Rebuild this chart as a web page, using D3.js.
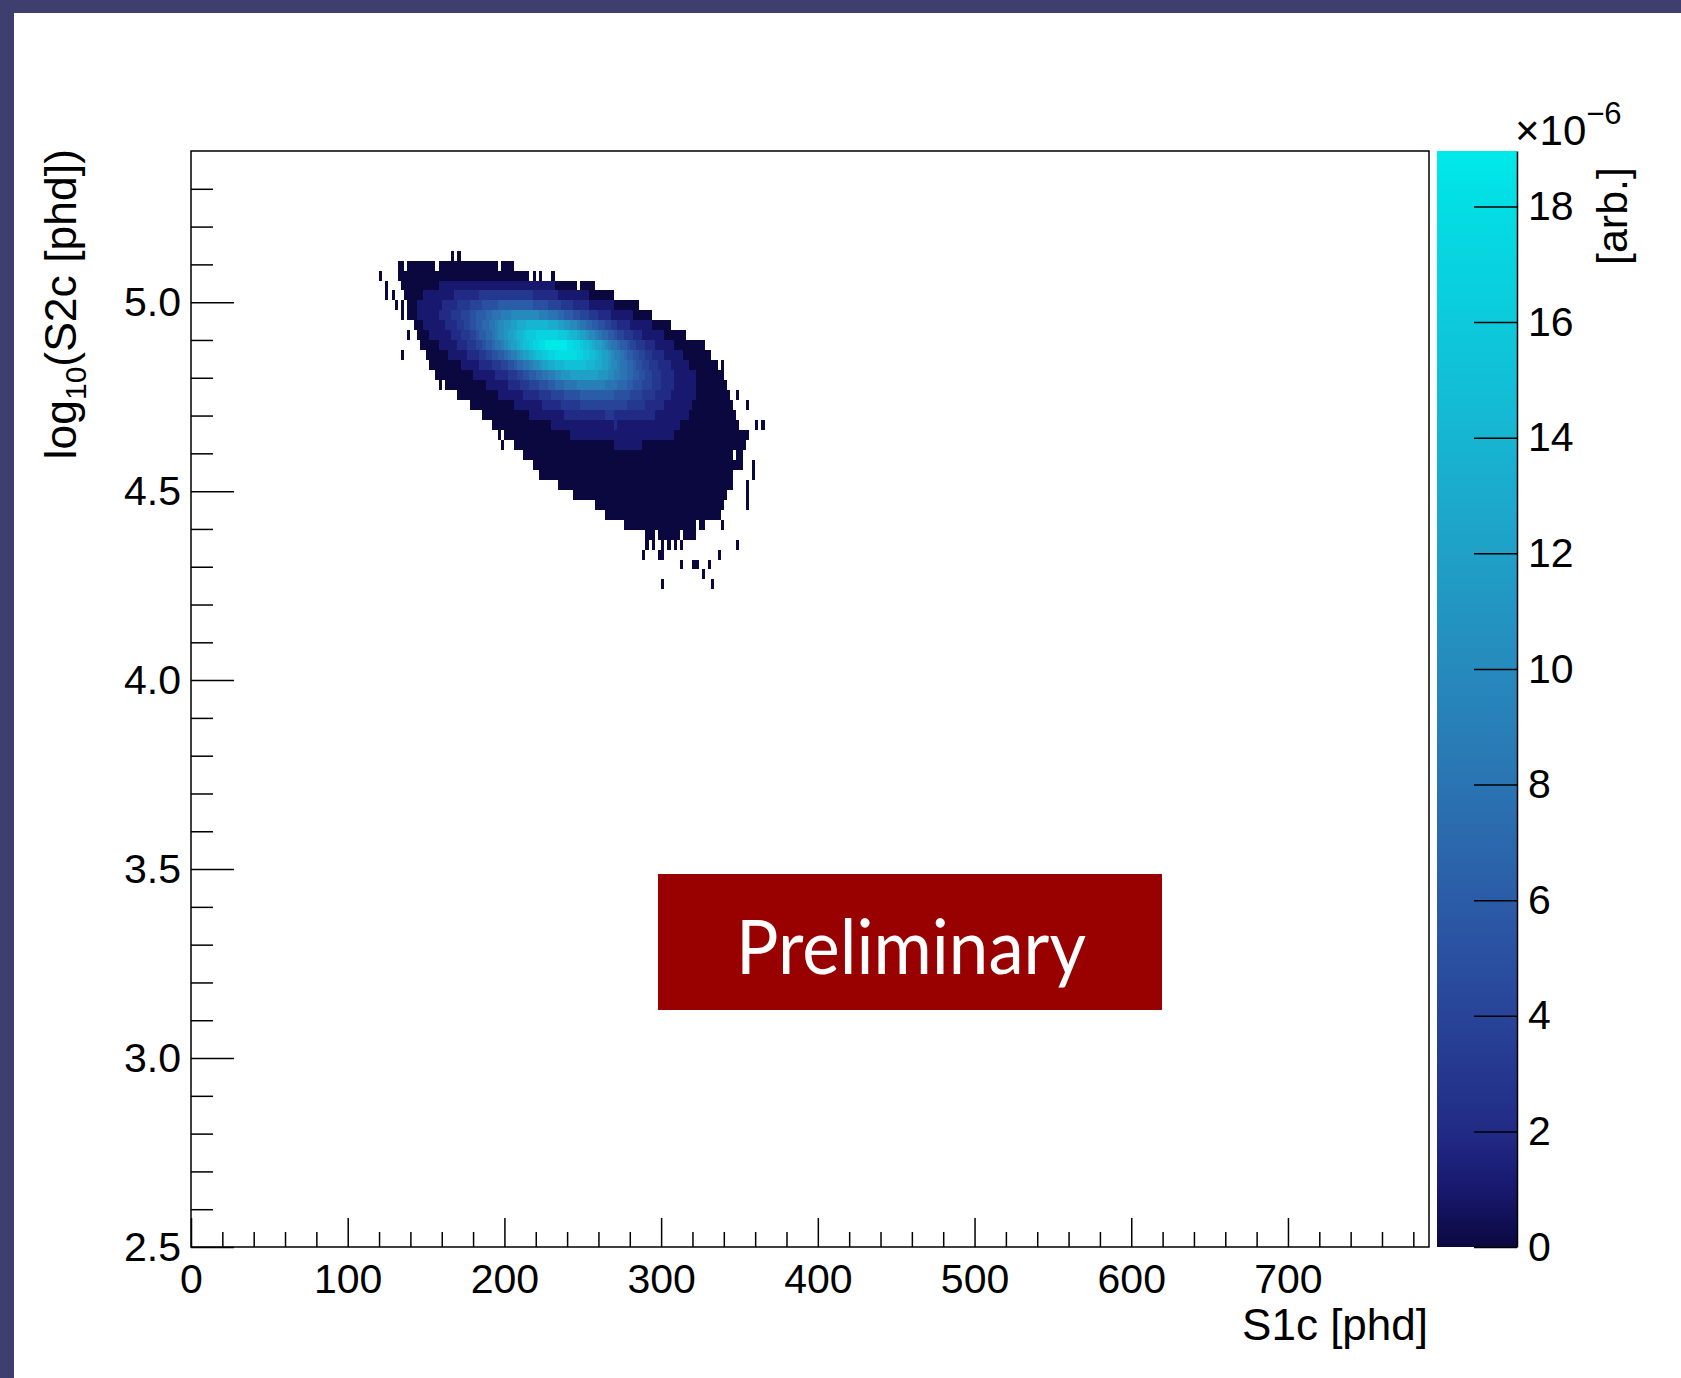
<!DOCTYPE html>
<html>
<head>
<meta charset="utf-8">
<script src="https://cdn.jsdelivr.net/npm/d3@7"></script>
<style>
    html, body { margin: 0; padding: 0; background: #fff; overflow: hidden; }
    svg { display: block; }
</style>
</head>
<body>
<svg id="chart"></svg>
<script>
// log10(S2c) binning of the histogram: 110 bins over 2.5 .. 5.4
const s2Range = [2.5, 5.4];
const s2BinCount = 110;
// S1c bins are 2 phd wide
const s1BinWidth = 2;

// one entry per filled row: row index (from 2.5 up), S1c of first char, cell contents
// cell chars: '.' empty, otherwise value in units of 1e-6 (base 36: 0-9, a=10 ... j=19)
const rowBins = [99, 98, 97, 96, 95, 94, 93, 92, 91, 90, 89, 88, 87, 86, 85, 84, 83,
                 82, 81, 80, 79, 78, 77, 76, 75, 74, 73, 72, 71, 70, 69, 68, 67, 66];
const rowFirstS1c = [166, 132, 120, 124, 124, 130, 134, 142, 138, 146, 134, 152, 156, 158, 170, 178, 186,
                     192, 196, 198, 212, 218, 222, 234, 244, 258, 264, 276, 290, 290, 288, 312, 326, 300];
const rowCells = [
    "0.0",
    "00.000000000.0000000000000000000.0000",
    "0....." + "0000000000" + "0000000000" + "0000000000" + "0000000000" + "00" + ".0.0...0",
    "0...." + "000000000000" + "1111111111" + "1111111111" + "1111111111" + "1111111" + "0000000.00000",
    "0.0..." + "000000" + "1111111111" + "22222222" + "3333333333" + "3333333" + "22222222" + "1111111111" + "00000000",
    "0.0." + "000" + "11111111" + "22222" + "3333" + "4444" + "55555" + "6666666666" + "6" + "55555" + "4444" + "3333" + "22222" + "11111111" + "00000000",
    "0." + "000" + "1111111" + "2222" + "333" + "444" + "55" + "666" + "77" + "888" + "999" + "aaaaaaaaa" + "999" + "888" + "77" + "666" + "55" + "444" + "333" + "2222" + "1111111" + "000000",
    "000" + "1111111" + "2222" + "33" + "44" + "55" + "66" + "77" + "88" + "9" + "aa" + "bb" + "cc" + "ddd" + "eeeeeee" + "ddd" + "cc" + "bb" + "aa" + "9" + "88" + "77" + "66" + "55" + "44" + "33" + "2222" + "1111111" + "000000",
    "0.." + "0000" + "1111111" + "222" + "333" + "44" + "5" + "66" + "77" + "8" + "9" + "aa" + "b" + "cc" + "d" + "ee" + "f" + "ggg" + "hhhhhhh" + "ggg" + "f" + "ee" + "d" + "cc" + "b" + "aa" + "9" + "8" + "77" + "66" + "5" + "44" + "333" + "222" + "1111111" + "0000000",
    "000000" + "111111" + "222" + "333" + "44" + "5" + "66" + "7" + "88" + "9" + "a" + "b" + "cc" + "d" + "e" + "ff" + "g" + "hh" + "ii" + "jjjjjjj" + "ii" + "hh" + "g" + "ff" + "e" + "d" + "cc" + "b" + "a" + "9" + "88" + "7" + "66" + "5" + "44" + "333" + "222" + "111111" + "0000000000",
    "0......." + "0000000" + "111111" + "2222" + "33" + "44" + "55" + "66" + "7" + "8" + "99" + "a" + "b" + "cc" + "d" + "e" + "ff" + "gg" + "hh" + "iiiiiii" + "hh" + "gg" + "ff" + "e" + "d" + "cc" + "b" + "a" + "99" + "8" + "7" + "66" + "55" + "44" + "33" + "2222" + "111111" + "000000000",
    "0000000000" + "111111" + "2222" + "333" + "44" + "55" + "6" + "77" + "88" + "9" + "aa" + "b" + "cc" + "dd" + "eee" + "fffffff" + "eee" + "dd" + "cc" + "b" + "aa" + "9" + "88" + "77" + "6" + "55" + "44" + "333" + "2222" + "111111" + "000000000" + ".0",
    "000000000000" + "1111111" + "2222" + "333" + "44" + "55" + "66" + "77" + "88" + "99" + "aa" + "bbb" + "ccccccccc" + "bbb" + "aa" + "99" + "88" + "77" + "66" + "55" + "44" + "333" + "2222" + "1111111" + "000000000",
    "0." + "0000000000000" + "1111111" + "2222" + "333" + "444" + "555" + "66" + "777" + "8888" + "999999999" + "8888" + "777" + "66" + "555" + "444" + "333" + "2222" + "1111111" + "0000000000",
    "0000000000" + "000" + "11111111" + "22222" + "3333" + "4444" + "55555" + "6666666666" + "6" + "55555" + "4444" + "3333" + "22222" + "11111111" + "0000000000" + "0" + "..0",
    "0000000000" + "0000" + "111111111" + "222222" + "333333" + "4444444444" + "44444" + "333333" + "222222" + "111111111" + "0000000000" + "000" + "....0",
    "0000000000" + "00000" + "1111111111" + "1" + "2222222222" + "222" + "333" + "2222222222" + "222" + "1111111111" + "1" + "0000000000" + "00000",
    "0000000000" + "000000000" + "1111111111" + "1111111111" + "2" + "1111111111" + "1111111111" + "0000000000" + "000000000" + ".....0.0",
    "0." + "0000000000" + "0000000000" + "0" + "1111111111" + "1111111111" + "1111111111" + "111" + "0000000000" + "0000000000" + "0000",
    "0..." + "0000000000" + "0000000000" + "0000000000" + "00" + "111111111" + "0000000000" + "0000000000" + "0000000000" + "000",
    "0000000000" + "0000000000" + "0000000000" + "0000000000" + "0000000000" + "0000000000" + "0000000" + ".00",
    "0000000000" + "0000000000" + "0000000000" + "0000000000" + "0000000000" + "0000000000" + "0000000" + "...0",
    "0000000000" + "0000000000" + "0000000000" + "0000000000" + "0000000000" + "0000000000" + "00" + "......0",
    "0000000000" + "0000000000" + "0000000000" + "0000000000" + "0000000000" + "000000" + "....0",
    "0000000000" + "0000000000" + "0000000000" + "0000000000" + "000000000" + "......0",
    "0000000000" + "0000000000" + "0000000000" + "0000000000" + "0" + ".......0",
    "0000000000" + "0000000000" + "0000000000" + "0000000",
    "0000000000" + "0000000000" + "000" + ".00.....0",
    "000.0000000.0000",
    "0.0..0.0.0.0.................0",
    "0....00.................0",
    "0...00...0",
    "0",
    "0...............0"
];

const xTicks = [0, 100, 200, 300, 400, 500, 600, 700];
const yTicks = [2.5, 3.0, 3.5, 4.0, 4.5, 5.0];
const zTicks = [0, 2, 4, 6, 8, 10, 12, 14, 16, 18];
const xMax = 790;
const zMax = 18.96;

const font = "'Liberation Sans', Arial, Helvetica, sans-serif";

const svg = d3.select("#chart").attr("width", 1681).attr("height", 1378);

// slide border strips
svg.append("rect").attr("x", 0).attr("y", 0).attr("width", 1681).attr("height", 13).attr("fill", "#3e3f6e");
svg.append("rect").attr("x", 0).attr("y", 0).attr("width", 14).attr("height", 1378).attr("fill", "#3e3f6e");

const plot = {left: 191, right: 1429, top: 151, bottom: 1247};

const x = d3.scaleLinear().domain([0, xMax]).range([plot.left, plot.right]);
const y = d3.scaleLinear().domain(s2Range).range([plot.bottom, plot.top]);
const z = d3.scaleLinear().domain([0, zMax]).range([plot.bottom, plot.top]);
const s2Bin = (s2Range[1] - s2Range[0]) / s2BinCount;

// deep sea like palette
const paletteStops = [0, 1, 2, 4, 6, 8, 10, 12, 14, 16, 18, 19];
const paletteColors = ["#0b0840", "#18186e", "#212b86", "#284499", "#2b5ca7", "#2a74b2",
                       "#268abd", "#1fa0c7", "#16b5d1", "#0ccadb", "#03dde4", "#00eaea"];
const color = d3.scaleLinear().domain(paletteStops).range(paletteColors).clamp(true);

// unpack the rows into cells
let cells = [];
rowCells.forEach((row, r) => {
    for (let i = 0; i < row.length; i++) {
        if (row[i] === ".") continue;
        cells.push({
            s1: rowFirstS1c[r] + i * s1BinWidth,
            s2: s2Range[0] + rowBins[r] * s2Bin,
            v: parseInt(row[i], 36)
        });
    }
});

svg.append("g")
    .attr("shape-rendering", "crispEdges")
    .selectAll("rect")
    .data(cells)
    .join("rect")
    .attr("x", d => x(d.s1))
    .attr("width", d => x(d.s1 + s1BinWidth) - x(d.s1))
    .attr("y", d => y(d.s2 + s2Bin))
    .attr("height", d => y(d.s2) - y(d.s2 + s2Bin))
    .attr("fill", d => color(d.v));

// frame
svg.append("rect")
    .attr("x", plot.left).attr("y", plot.top)
    .attr("width", plot.right - plot.left).attr("height", plot.bottom - plot.top)
    .attr("fill", "none").attr("stroke", "#000").attr("stroke-width", 1.5);

function styleAxis(g, size) {
    g.attr("font-family", font).attr("font-size", size);
    g.selectAll("line").attr("stroke", "#000").attr("stroke-width", 1.5);
    g.selectAll("text").attr("fill", "#000");
}

// x axis, ticks point inwards
svg.append("g")
    .attr("transform", `translate(0,${plot.bottom})`)
    .call(d3.axisBottom(x).tickValues(d3.range(0, xMax, 20).filter(v => v % 100 !== 0))
        .tickSize(-15).tickFormat(""))
    .call(g => g.select(".domain").remove())
    .call(g => styleAxis(g, 41));
svg.append("g")
    .attr("transform", `translate(0,${plot.bottom})`)
    .call(d3.axisBottom(x).tickValues(xTicks).tickSize(-29).tickPadding(17).tickFormat(d3.format("d")))
    .call(g => g.select(".domain").remove())
    .call(g => styleAxis(g, 41));

// y axis
svg.append("g")
    .attr("transform", `translate(${plot.left},0)`)
    .call(d3.axisLeft(y).tickValues(d3.range(26, 54).map(v => v / 10).filter(v => Math.round(v * 10) % 5 !== 0))
        .tickSize(-22).tickFormat(""))
    .call(g => g.select(".domain").remove())
    .call(g => styleAxis(g, 41));
svg.append("g")
    .attr("transform", `translate(${plot.left},0)`)
    .call(d3.axisLeft(y).tickValues(yTicks).tickSize(-43).tickPadding(10).tickFormat(d3.format(".1f")))
    .call(g => g.select(".domain").remove())
    .call(g => styleAxis(g, 41));

// colour bar
const grad = svg.append("defs").append("linearGradient")
    .attr("id", "zgrad").attr("x1", 0).attr("y1", 1).attr("x2", 0).attr("y2", 0);
paletteStops.forEach(v => {
    grad.append("stop").attr("offset", Math.min(v / zMax, 1)).attr("stop-color", color(v));
});
const bar = {left: 1437, right: 1517};
svg.append("rect")
    .attr("x", bar.left).attr("y", z(zMax))
    .attr("width", bar.right - bar.left).attr("height", z(0) - z(zMax))
    .attr("fill", "url(#zgrad)");
svg.append("g")
    .attr("transform", `translate(${bar.right},0)`)
    .call(d3.axisRight(z).tickValues(zTicks).tickSize(-43).tickSizeOuter(0).tickPadding(11))
    .call(g => g.select(".domain").attr("stroke", "#000").attr("stroke-width", 1.5))
    .call(g => styleAxis(g, 41));

// exponent and z title
const expo = svg.append("text")
    .attr("x", 1515).attr("y", 145)
    .attr("font-family", font).attr("font-size", 42);
expo.append("tspan").text("\u00d710");
expo.append("tspan").attr("font-size", 31).attr("dy", -21).text("\u22126");

svg.append("text")
    .attr("transform", "translate(1627,167) rotate(-90)")
    .attr("text-anchor", "end")
    .attr("font-family", font).attr("font-size", 43)
    .text("[arb.]");

// axis titles
svg.append("text")
    .attr("x", 1428).attr("y", 1340)
    .attr("text-anchor", "end")
    .attr("font-family", font).attr("font-size", 44)
    .text("S1c [phd]");

const ytitle = svg.append("text")
    .attr("transform", "translate(76,149) rotate(-90)")
    .attr("text-anchor", "end")
    .attr("font-family", font).attr("font-size", 44.5);
ytitle.append("tspan").text("log");
ytitle.append("tspan").attr("font-size", 30).attr("dy", 10).text("10");
ytitle.append("tspan").attr("dy", -10).text("(S2c [phd])");

// preliminary stamp
svg.append("rect")
    .attr("x", 658).attr("y", 874).attr("width", 504).attr("height", 136)
    .attr("fill", "#990000");
svg.append("text")
    .attr("x", 911).attr("y", 974)
    .attr("text-anchor", "middle")
    .attr("font-family", "Lato, 'Open Sans', sans-serif").attr("font-size", 76)
    .attr("textLength", 350).attr("lengthAdjust", "spacingAndGlyphs")
    .attr("fill", "#fff")
    .text("Preliminary");
</script>
</body>
</html>
